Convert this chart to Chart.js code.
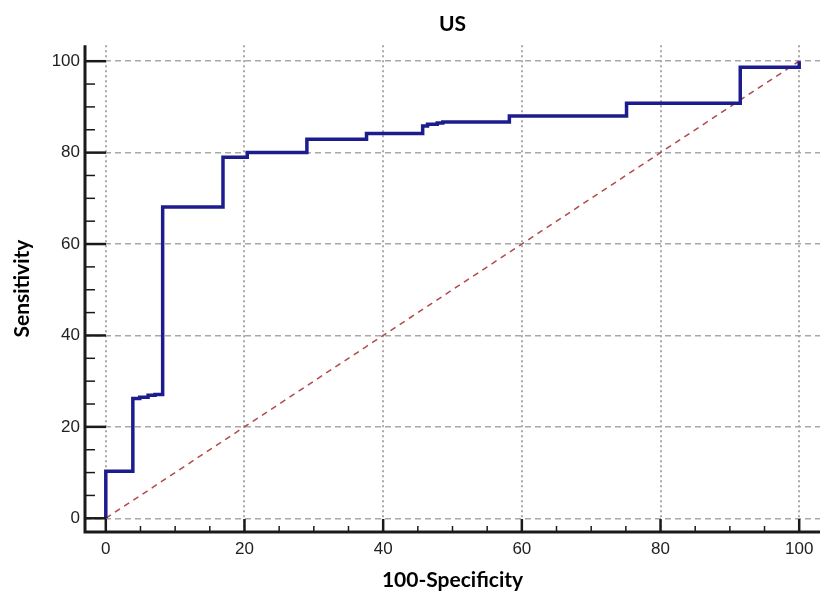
<!DOCTYPE html>
<html>
<head>
<meta charset="utf-8">
<script src="https://cdn.jsdelivr.net/npm/chart.js@4"></script>
<style>
  body { margin: 0; background: #fff; }
</style>
</head>
<body>
<canvas id="roc_chart" width="826" height="599"></canvas>
<script>
// ROC curve (step points: x = 100-Specificity, y = Sensitivity)
const rocX = [0, 0, 3.9, 4.9, 6.1, 7.1, 8.2, 16.9, 20.4, 29.0, 37.6, 45.7, 46.4, 47.8, 48.6, 58.2, 75.1, 91.5, 100];
const rocY = [0, 10.3, 26.2, 26.5, 26.9, 27.1, 68.1, 79.0, 80.0, 82.9, 84.2, 85.8, 86.2, 86.5, 86.7, 88.0, 90.8, 98.7, 100];

// reference diagonal
const refX = [0, 100];
const refY = [0, 100];

const majorTicks = [0, 20, 40, 60, 80, 100];
const minorTicks = [5, 10, 15, 25, 30, 35, 45, 50, 55, 65, 70, 75, 85, 90, 95];

const chartTitle = 'US';
const xTitle = '100-Specificity';
const yTitle = 'Sensitivity';

document.addEventListener('DOMContentLoaded', docReady);
if (document.readyState !== 'loading') docReady();

function docReady(){
    if (window._done) return;
    window._done = true;
    initRocChart();
}

function toPoints(xs, ys){
    return xs.map(function(x, i){ return {x: x, y: ys[i]}; });
}

// axis lines + inside ticks, like the original plot
const axisPlugin = {
    id: 'axisPlugin',
    afterDraw: function(chart){
        const ctx = chart.ctx;
        const xs = chart.scales.x;
        const ys = chart.scales.y;
        const area = chart.chartArea;
        ctx.save();
        ctx.strokeStyle = '#1a1a1a';
        ctx.lineCap = 'butt';

        // ticks
        ctx.lineWidth = 2.5;
        majorTicks.forEach(function(v){
            const py = ys.getPixelForValue(v);
            ctx.beginPath(); ctx.moveTo(area.left, py); ctx.lineTo(area.left + 21, py); ctx.stroke();
            const px = xs.getPixelForValue(v);
            ctx.beginPath(); ctx.moveTo(px, area.bottom); ctx.lineTo(px, area.bottom - 13); ctx.stroke();
        });
        ctx.lineWidth = 1.5;
        minorTicks.forEach(function(v){
            const py = ys.getPixelForValue(v);
            ctx.beginPath(); ctx.moveTo(area.left, py); ctx.lineTo(area.left + 10, py); ctx.stroke();
            const px = xs.getPixelForValue(v);
            ctx.beginPath(); ctx.moveTo(px, area.bottom); ctx.lineTo(px, area.bottom - 6); ctx.stroke();
        });

        // axis lines
        ctx.lineWidth = 3;
        ctx.beginPath();
        ctx.moveTo(area.left, area.top);
        ctx.lineTo(area.left, area.bottom);
        ctx.lineTo(area.right, area.bottom);
        ctx.stroke();
        ctx.restore();
    }
};

function initRocChart(){
    const ctx = document.getElementById('roc_chart').getContext('2d');
    var chart = new Chart(ctx, {
        type: 'scatter',
        data: {
            datasets: [{
                label: 'ROC',
                data: toPoints(rocX, rocY),
                showLine: true,
                stepped: 'before',
                borderColor: '#1c1c8e',
                borderWidth: 3.5,
                pointRadius: 0,
                fill: false,
                order: 1
            }, {
                label: 'Reference',
                data: toPoints(refX, refY),
                showLine: true,
                borderColor: '#b24a4a',
                borderWidth: 1.5,
                borderDash: [6, 5],
                pointRadius: 0,
                fill: false,
                order: 2
            }]
        },
        options: {
            responsive: false,
            animation: false,
            devicePixelRatio: 1,
            layout: {
                padding: {left: 0, right: 6, top: 0, bottom: 0}
            },
            plugins: {
                legend: { display: false },
                tooltip: { enabled: false },
                title: {
                    display: true,
                    text: chartTitle,
                    fullSize: false,
                    color: '#000',
                    font: { family: 'Lato', size: 21, weight: 'bold' },
                    padding: { top: 12, bottom: 8 }
                }
            },
            scales: {
                x: {
                    type: 'linear',
                    min: -3,
                    max: 103,
                    afterBuildTicks: function(scale){
                        scale.ticks = majorTicks.map(function(v){ return {value: v}; });
                    },
                    afterFit: function(scale){ scale.height = 67; },
                    grid: {
                        color: '#a8a8a8',
                        lineWidth: 2,
                        drawTicks: false
                    },
                    border: { display: false, dash: [2, 3] },
                    ticks: {
                        padding: 7,
                        color: '#222',
                        font: { family: 'Liberation Sans', size: 17 },
                        maxRotation: 0
                    },
                    title: {
                        display: true,
                        text: xTitle,
                        color: '#000',
                        font: { family: 'Lato', size: 21, weight: 'bold' },
                        padding: { top: 0, bottom: 6 }
                    }
                },
                y: {
                    type: 'linear',
                    min: -3,
                    max: 103.5,
                    afterBuildTicks: function(scale){
                        scale.ticks = majorTicks.map(function(v){ return {value: v}; });
                    },
                    afterFit: function(scale){ scale.width = 85; },
                    grid: {
                        color: '#a8a8a8',
                        lineWidth: 1.5,
                        drawTicks: false
                    },
                    border: { display: false, dash: [6, 4] },
                    ticks: {
                        padding: 5,
                        color: '#222',
                        font: { family: 'Liberation Sans', size: 17 }
                    },
                    title: {
                        display: true,
                        text: yTitle,
                        color: '#000',
                        font: { family: 'Lato', size: 21, weight: 'bold' },
                        padding: { top: 10, bottom: 0 }
                    }
                }
            }
        },
        plugins: [axisPlugin]
    });
}
</script>
</body>
</html>
